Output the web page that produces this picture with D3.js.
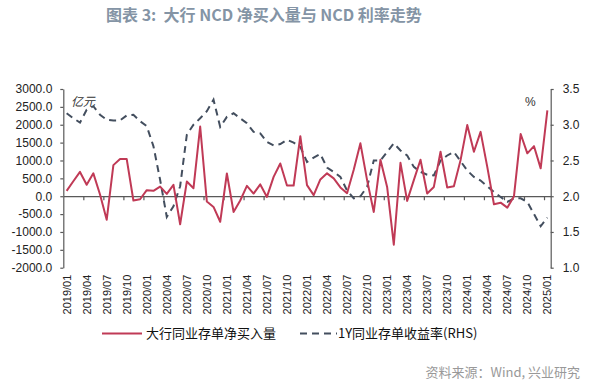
<!DOCTYPE html>
<html>
<head>
<meta charset="utf-8">
<script src="https://cdn.jsdelivr.net/npm/d3@7"></script>
<style>
  body { margin: 0; background: #fff; }
  svg { display: block; }
</style>
</head>
<body>
<div id="chart"></div>
<script>
// monthly, 2019/01 .. 2025/01
var months = [];
for (var yy = 2019; yy <= 2025; yy++) {
  for (var mm = 1; mm <= 12; mm++) {
    if (yy === 2025 && mm > 1) break;
    months.push(yy + "/" + (mm < 10 ? "0" + mm : mm));
  }
}

// 大行同业存单净买入量 (亿元, left axis)
var netBuy = [
  150, 420, 680, 320, 640, 50, -660, 870, 1040, 1040, -120, -85,
  170, 150, 270, 65, 318, -785, 410, 225, 1950, -150, -300, -715,
  636, -440, -120, 290, 75, 330, -20, 540, 915, 300, 300, 1680,
  310, 30, 470, 640, 500, 245, 85, 740, 1480, 450, -440, 1020,
  260, -1355, 935, -130, 450, 1020, 75, 260, 1245, 245, 280, 1010,
  1990, 1245, 1800, 820, -225, -180, -320, 0, 1740, 1200, 1400, 780,
  2400
];

// 1Y同业存单收益率 (%, right axis)
var rate1y = [
  3.16, 3.09, 3.03, 3.21, 3.26, 3.14, 3.07, 3.06, 3.06, 3.13, 3.14, 3.05,
  2.98, 2.70, 2.23, 1.71, 1.86, 2.14, 2.86, 3.00, 3.09, 3.19, 3.35, 2.97,
  3.11, 3.16, 3.09, 3.02, 2.90, 2.88, 2.76, 2.71, 2.73, 2.79, 2.75, 2.69,
  2.48, 2.54, 2.59, 2.40, 2.34, 2.27, 2.08, 1.97, 2.00, 2.13, 2.50, 2.50,
  2.62, 2.74, 2.64, 2.57, 2.41, 2.34, 2.30, 2.29, 2.50, 2.57, 2.62, 2.49,
  2.36, 2.27, 2.22, 2.14, 2.06, 1.99, 1.92, 1.97, 1.97, 1.92, 1.75, 1.58,
  1.70
];

var leftTicks = [-2000, -1500, -1000, -500, 0, 500, 1000, 1500, 2000, 2500, 3000];
var rightTicks = [1.0, 1.5, 2.0, 2.5, 3.0, 3.5];

var W = 598, H = 386;
var x0 = 63.3, x1 = 550.7, yTop = 89, yBot = 267.7;
var axisColor = "#595959";
var numFont = "'Liberation Sans', Arial, sans-serif";
var cjkFont = "'Noto Sans CJK SC', 'Noto Sans', sans-serif";

var svg = d3.select("#chart").append("svg")
  .attr("width", W).attr("height", H);

// title
svg.append("text")
  .attr("x", 106).attr("y", 21)
  .style("font-family", cjkFont)
  .style("font-size", "16px")
  .style("font-weight", "bold")
  .style("white-space", "pre")
  .style("fill", "#8494a5")
  .text("图表 3:  大行 NCD 净买入量与 NCD 利率走势");

var x = d3.scaleBand().domain(months).range([x0, x1]);
var xIdx = d3.scaleLinear().domain([0, months.length]).range([x0, x1]);
var yL = d3.scaleLinear().domain([-2000, 3000]).range([yBot, yTop]);
var yR = d3.scaleLinear().domain([1.0, 3.5]).range([yBot, yTop]);
function cx(d) { return x(d) + x.bandwidth() / 2; }

// left axis
var gL = svg.append("g")
  .attr("transform", "translate(" + x0 + ",0)")
  .call(d3.axisLeft(yL).tickValues(leftTicks)
    .tickFormat(function(d) { return d.toFixed(1); })
    .tickSize(3).tickSizeOuter(0).tickPadding(8));

// right axis
var gR = svg.append("g")
  .attr("transform", "translate(" + x1 + ",0)")
  .call(d3.axisRight(yR).tickValues(rightTicks)
    .tickFormat(function(d) { return d.toFixed(1); })
    .tickSize(3).tickSizeOuter(0).tickPadding(9));

// category axis on the zero line
var gX = svg.append("g")
  .attr("transform", "translate(0," + yL(0) + ")")
  .call(d3.axisBottom(xIdx).tickValues(d3.range(3, months.length, 3))
    .tickFormat("").tickSize(4).tickSizeOuter(0));

[gL, gR, gX].forEach(function(g) {
  g.select(".domain").attr("stroke", axisColor).attr("stroke-width", 1.2);
  g.selectAll(".tick line").attr("stroke", axisColor).attr("stroke-width", 1.2);
  g.selectAll(".tick text")
    .style("font-family", numFont)
    .style("font-size", "12px")
    .attr("fill", "#222");
});

// rotated month labels, every 3 months
svg.append("g").selectAll("text")
  .data(months.filter(function(d, i) { return i % 3 === 0; }))
  .enter().append("text")
  .attr("transform", function(d) {
    return "translate(" + (cx(d) + 4) + "," + (yBot + 7) + ") rotate(-90)";
  })
  .attr("text-anchor", "end")
  .style("font-family", numFont)
  .style("font-size", "11px")
  .style("fill", "#222")
  .text(function(d) { return d; });

// unit labels
svg.append("text")
  .attr("x", 71).attr("y", 106)
  .style("font-family", cjkFont).style("font-size", "12px")
  .style("font-style", "italic").style("fill", "#333")
  .text("亿元");
svg.append("text")
  .attr("x", 525).attr("y", 106)
  .style("font-family", numFont).style("font-size", "12px")
  .style("fill", "#333")
  .text("%");

// series
var lineL = d3.line()
  .x(function(d, i) { return cx(months[i]); })
  .y(function(d) { return yL(d); });
var lineR = d3.line()
  .x(function(d, i) { return cx(months[i]); })
  .y(function(d) { return yR(d); });

svg.append("path")
  .datum(rate1y)
  .attr("d", lineR)
  .attr("fill", "none")
  .attr("stroke", "#434e5e")
  .attr("stroke-width", 2)
  .attr("stroke-dasharray", "7,5");

svg.append("path")
  .datum(netBuy)
  .attr("d", lineL)
  .attr("fill", "none")
  .attr("stroke", "#c03a56")
  .attr("stroke-width", 2)
  .attr("stroke-linejoin", "round");

// legend
var leg = svg.append("g");
leg.append("line")
  .attr("x1", 102).attr("x2", 142).attr("y1", 333.5).attr("y2", 333.5)
  .attr("stroke", "#c03a56").attr("stroke-width", 2);
leg.append("text")
  .attr("x", 146).attr("y", 338)
  .style("font-family", cjkFont).style("font-size", "13px").style("fill", "#111")
  .text("大行同业存单净买入量");
leg.append("line")
  .attr("x1", 300).attr("x2", 337).attr("y1", 333.5).attr("y2", 333.5)
  .attr("stroke", "#434e5e").attr("stroke-width", 2)
  .attr("stroke-dasharray", "7,5");
leg.append("text")
  .attr("x", 338).attr("y", 338)
  .style("font-family", cjkFont).style("font-size", "13px").style("fill", "#111")
  .text("1Y同业存单收益率(RHS)");

// source
svg.append("text")
  .attr("x", 580).attr("y", 377)
  .attr("text-anchor", "end")
  .style("font-family", cjkFont).style("font-size", "13px")
  .style("fill", "#999")
  .text("资料来源：Wind, 兴业研究");
</script>
</body>
</html>
